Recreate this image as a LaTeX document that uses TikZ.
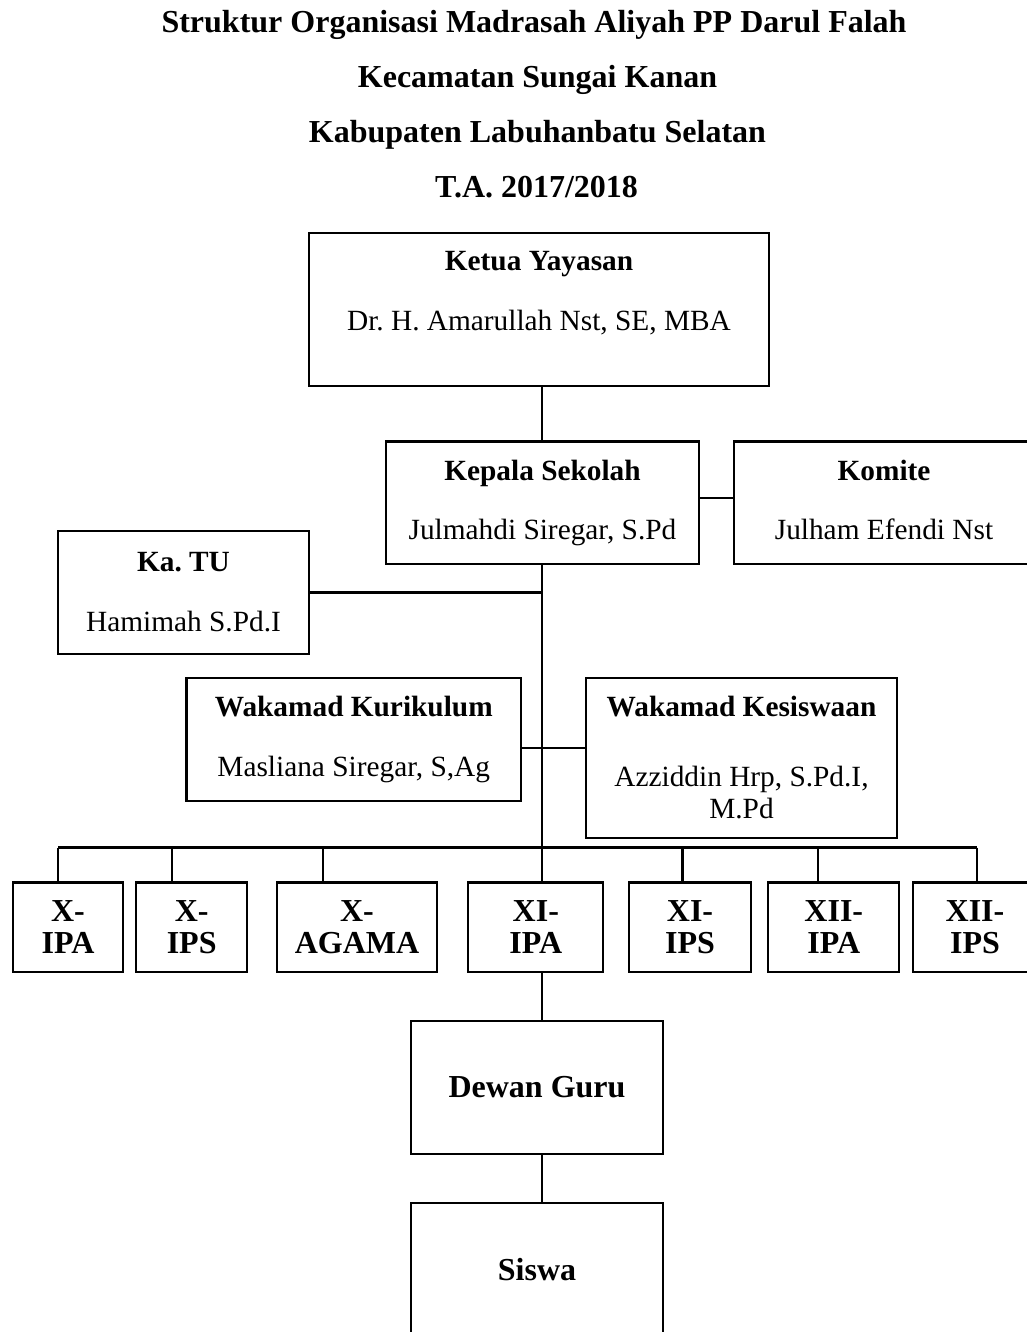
\documentclass[tikz,border=0pt]{standalone}
\usepackage{fontspec}
\setmainfont{Liberation Serif}
\frenchspacing
\newdimen\pxu
\pxu=0.375pt
\tikzset{box/.style 2 args={draw, rectangle, line width=0.8pt, inner sep=0pt,
      align=center, minimum width=#1\pxu, minimum height=#2\pxu,
      font=\fontsize{11}{12.65}\selectfont}}
\tikzset{kelas/.style={font=\bfseries\fontsize{12}{12}\selectfont}}
\tikzset{judul/.style={anchor=base, inner sep=0pt, font=\bfseries\fontsize{12}{12}\selectfont}}
\tikzset{garis/.style={line width=0.8pt}}

\begin{document}
\begin{tikzpicture}[x=0.375pt,y=-0.375pt]
    \useasboundingbox (0,0) rectangle (1026,1332);
    % judul
    \node[judul] (t1) at (534,32.3) {Struktur Organisasi Madrasah Aliyah PP Darul Falah};
    \node[judul] (t2) at (537.5,87.3) {Kecamatan Sungai Kanan};
    \node[judul] (t3) at (537.5,142.3) {Kabupaten Labuhanbatu Selatan};
    \node[judul] (t4) at (536.5,197.3) {T.A. 2017/2018};

    \node[box={460}{153}] (ketua) at (539,309.5) {\textbf{Ketua Yayasan}\\[9.85pt]Dr. H. Amarullah Nst, SE, MBA\\[1.5pt]\mbox{}};
    \node[box={313}{122.5}] (kepala) at (542.5,502.75) {\textbf{Kepala Sekolah}\\[9.5pt]Julmahdi Siregar, S.Pd};
    \node[box={300}{122.5}] (komite) at (884,502.75) {\textbf{Komite}\\[9.5pt]Julham Efendi Nst\vphantom{g}};
    \node[box={251}{123}] (katu) at (183.5,592.5) {\textbf{Ka. TU}\\[9.85pt]Hamimah S.Pd.I};
    \node[box={334.5}{123}] (kurikulum) at (353.75,739.5) {\textbf{Wakamad Kurikulum}\\[9.85pt]Masliana Siregar, S,Ag};
    \node[box={311}{159.7}] (kesiswaan) at (741.5,757.85) {\textbf{Wakamad Kesiswaan}\\[13.6pt]Azziddin Hrp, S.Pd.I,\\[-0.75pt]M.Pd};

    % kelas
    \node[box={110.6}{89.5}, kelas] (xa) at (68,927.25) {X-\\IPA};
    \node[box={111.3}{89.5}, kelas] (xs) at (191.65,927.25) {X-\\IPS};
    \node[box={160.6}{89.5}, kelas] (xg) at (357,927.25) {X-\\AGAMA};
    \node[box={135}{89.5}, kelas] (xia) at (535.8,927.25) {XI-\\IPA};
    \node[box={121.4}{89.5}, kelas] (xis) at (690,927.25) {XI-\\IPS};
    \node[box={131}{89.5}, kelas] (xiia) at (833.8,927.25) {XII-\\IPA};
    \node[box={123.7}{89.5}, kelas] (xiis) at (975,927.25) {XII-\\IPS};

    \node[box={252}{133}, kelas] (dewan) at (537,1087.5) {Dewan Guru};
    \node[box={252}{133}, kelas] (siswa) at (537,1269.5) {Siswa};

    % garis
    \coordinate (trunk) at (542,0);
    \coordinate (wk) at (542,748);
    \draw[garis] (ketua.south -| trunk) -- (kepala.north -| trunk);
    \draw[garis] ([yshift=1.9pt]kepala.east) -- ([yshift=1.9pt]komite.west);
    \draw[garis] (kepala.south -| trunk) -- (xia.north -| trunk);
    \draw[garis] (katu.east) -- (katu.east -| trunk);
    \draw[garis] (kurikulum.east |- wk) -- (kesiswaan.west |- wk);
    \coordinate (busl) at (58,847.5);
    \coordinate (busr) at (977,847.5);
    \draw[garis] (busl) -- (busr);
    \foreach \k/\x in {xa/58, xs/172, xg/323, xis/682.5, xiia/818, xiis/977}{
        \coordinate (d-\k) at (\x,847.5);
        \draw[garis] (d-\k) -- (d-\k |- \k.north);
    }
    \draw[garis] (xia.south -| trunk) -- (dewan.north -| trunk);
    \draw[garis] (dewan.south -| trunk) -- (siswa.north -| trunk);
\end{tikzpicture}
\end{document}
